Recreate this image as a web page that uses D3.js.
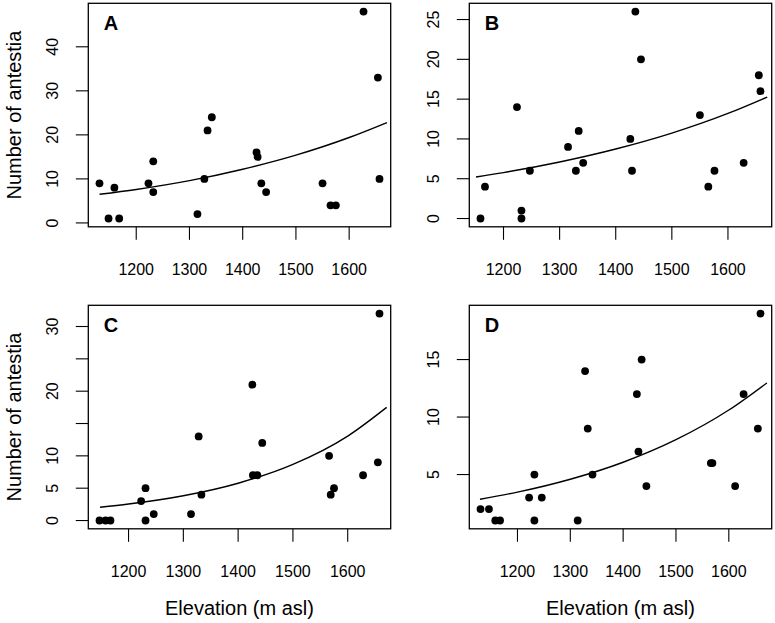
<!DOCTYPE html>
<html><head><meta charset="utf-8">
<script src="https://cdn.jsdelivr.net/npm/d3@7"></script>
<style>
html,body{margin:0;padding:0;background:#fff;}
text{font-family:"Liberation Sans",Arial,sans-serif;fill:#000;}
</style></head>
<body><svg id="chart" width="775" height="623"></svg>
<script>
// ---- data ----
const panelLetters = ["A", "B", "C", "D"];
const elevA = [1131,1148,1159,1168,1223,1232,1232,1315,1328,1334,1342,1426,1428,1435,1444,1550,1565,1575,1627,1654,1657];
const countA = [9,1,8,1,9,14,7,2,10,21,24,16,15,9,7,9,4,4,48,33,10];
const elevB = [1159,1167,1224,1232,1232,1247,1315,1329,1334,1342,1426,1429,1435,1445,1550,1565,1576,1628,1655,1658];
const countB = [0,4,14,1,0,6,9,6,11,7,10,6,26,20,13,4,6,7,18,16];
const elevC = [1147,1158,1167,1223,1231,1231,1246,1314,1328,1333,1426,1427,1435,1444,1566,1569,1575,1628,1655,1658];
const countC = [0,0,0,3,5,0,1,1,13,4,21,7,7,12,10,4,5,7,9,32];
const elevD = [1130,1146,1158,1167,1222,1232,1232,1246,1314,1328,1333,1342,1426,1429,1435,1444,1566,1569,1612,1628,1655,1660];
const countD = [2,2,1,1,3,5,1,3,1,14,9,5,12,7,15,4,6,6,4,12,9,19];

// fitted curves
const fitXA = [1131,1200,1300,1400,1500,1600,1671];
const fitYA = [6.5,7.6,9.6,12.2,15.4,19.4,22.8];
const fitXB = [1151,1200,1300,1400,1500,1600,1670];
const fitYB = [5.22,5.77,7.10,8.73,10.73,13.2,15.26];
const fitXC = [1148,1200,1300,1400,1500,1600,1671];
const fitYC = [2.06,2.55,3.83,5.77,8.68,13.06,17.5];
const fitXD = [1129,1200,1300,1400,1500,1600,1672];
const fitYD = [2.85,3.47,4.59,6.07,8.03,10.61,12.97];

// tick values / labels
const xTicks = [1200,1300,1400,1500,1600];
const yTicksA = [0,10,20,30,40];
const yTicksB = [0,5,10,15,20,25];
const yTicksC = [0,5,10,15,20,25,30];
const yTickLabelsC = ["0","5","10","","20","","30"];
const yTicksD = [5,10,15];

const xTitle = "Elevation (m asl)";
const yTitle = "Number of antestia";

// ---- layout ----
const svg = d3.select("#chart");
const W = 302.4, H = 223.5;
const panels = [
  {letter: panelLetters[0], ex: elevA, cy: countA, fx: fitXA, fy: fitYA, yt: yTicksA, yl: null, x0: 88.3, y0: 3.3, xlab: false, ylab: true},
  {letter: panelLetters[1], ex: elevB, cy: countB, fx: fitXB, fy: fitYB, yt: yTicksB, yl: null, x0: 469.3, y0: 3.3, xlab: false, ylab: false},
  {letter: panelLetters[2], ex: elevC, cy: countC, fx: fitXC, fy: fitYC, yt: yTicksC, yl: yTickLabelsC, x0: 88.3, y0: 305.3, xlab: true, ylab: true},
  {letter: panelLetters[3], ex: elevD, cy: countD, fx: fitXD, fy: fitYD, yt: yTicksD, yl: null, x0: 469.3, y0: 305.3, xlab: true, ylab: false}
];

function rExtent(arr) {
  const e = d3.extent(arr), d = (e[1] - e[0]) * 0.04;
  return [e[0] - d, e[1] + d];
}

panels.forEach(p => {
  const g = svg.append("g").attr("transform", `translate(${p.x0},${p.y0})`);
  const x = d3.scaleLinear().domain(rExtent(p.ex)).range([0, W]);
  const y = d3.scaleLinear().domain(rExtent(p.cy)).range([H, 0]);

  // x axis ticks
  const xa = g.append("g").attr("transform", `translate(0,${H})`);
  xa.selectAll("line").data(xTicks).join("line")
    .attr("x1", d => x(d)).attr("x2", d => x(d))
    .attr("y1", 0).attr("y2", 13)
    .attr("stroke", "#000").attr("stroke-width", 1.1);
  xa.selectAll("text").data(xTicks).join("text")
    .attr("x", d => x(d)).attr("y", 48.5)
    .attr("text-anchor", "middle").attr("font-size", 16)
    .text(d => d);

  // y axis ticks
  const ya = g.append("g");
  ya.selectAll("line").data(p.yt).join("line")
    .attr("x1", -12.5).attr("x2", 0)
    .attr("y1", d => y(d)).attr("y2", d => y(d))
    .attr("stroke", "#000").attr("stroke-width", 1.1);
  ya.selectAll("text").data(p.yt).join("text")
    .attr("transform", d => `translate(-30,${y(d)}) rotate(-90)`)
    .attr("text-anchor", "middle").attr("font-size", 16)
    .text((d, i) => p.yl ? p.yl[i] : d);

  // fitted curve
  const pts = p.fx.map((v, i) => [v, p.fy[i]]);
  g.append("path").datum(pts)
    .attr("d", d3.line().x(d => x(d[0])).y(d => y(d[1])).curve(d3.curveMonotoneX))
    .attr("fill", "none").attr("stroke", "#000").attr("stroke-width", 1.4);

  // points
  g.selectAll("circle").data(p.ex.map((v, i) => [v, p.cy[i]])).join("circle")
    .attr("cx", d => x(d[0])).attr("cy", d => y(d[1]))
    .attr("r", 3.9).attr("fill", "#000");

  // box
  g.append("rect").attr("x", 0).attr("y", 0).attr("width", W).attr("height", H)
    .attr("fill", "none").attr("stroke", "#000").attr("stroke-width", 1.3);

  // panel letter
  g.append("text").attr("x", 15.5).attr("y", 26.7)
    .attr("font-size", 20).attr("font-weight", "bold").text(p.letter);

  if (p.xlab) {
    g.append("text").attr("x", W / 2).attr("y", H + 86)
      .attr("text-anchor", "middle").attr("font-size", 20).text(xTitle);
  }
  if (p.ylab) {
    g.append("text").attr("transform", `translate(-67,${H / 2}) rotate(-90)`)
      .attr("text-anchor", "middle").attr("font-size", 20).text(yTitle);
  }
});
</script></body></html>
